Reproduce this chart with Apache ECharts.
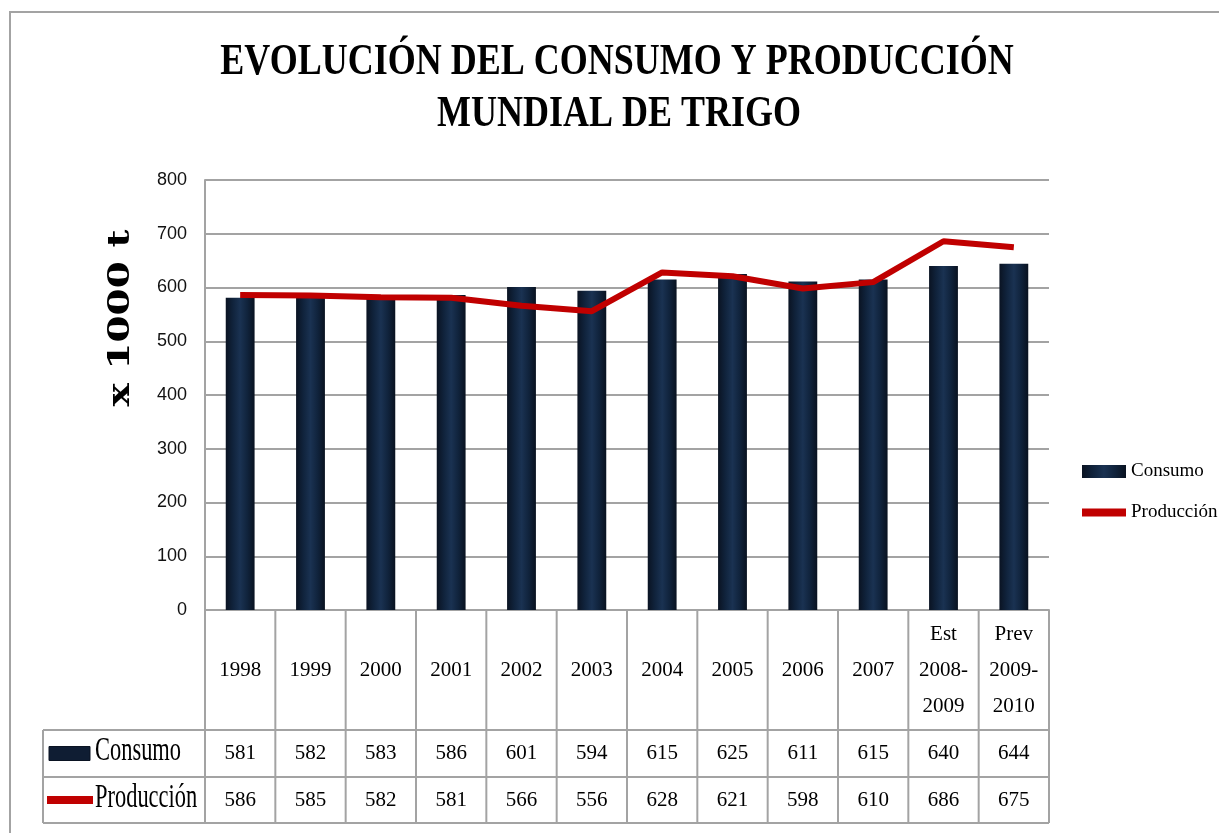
<!DOCTYPE html>
<html>
<head>
<meta charset="utf-8">
<script src="https://cdn.jsdelivr.net/npm/echarts@6/dist/echarts.min.js"></script>
<style>
html,body{margin:0;padding:0;background:#fff;}
#c{width:1219px;height:833px;}
</style>
</head>
<body>
<div id="c"></div>
<script>
var categories = ['1998','1999','2000','2001','2002','2003','2004','2005','2006','2007','Est\n2008-\n2009','Prev\n2009-\n2010'];
var consumo = [581,582,583,586,601,594,615,625,611,615,640,644];
var produccion = [586,585,582,581,566,556,628,621,598,610,686,675];
var yTicks = [0,100,200,300,400,500,600,700,800];
var titleLines = ['EVOLUCIÓN DEL CONSUMO Y PRODUCCIÓN','MUNDIAL DE TRIGO'];
var yName = 'x 1000 t';
var seriesNames = ['Consumo','Producción'];

var chart = echarts.init(document.getElementById('c'), null, {renderer:'canvas'});
var GRID = {left:205, right:170, top:180, bottom:223};
var lineCol = '#a3a3a3';
var barGrad = new echarts.graphic.LinearGradient(0,0,1,0,[
  {offset:0,color:'#0a1322'},{offset:0.25,color:'#10233c'},
  {offset:0.5,color:'#1a3252'},{offset:0.75,color:'#10233c'},{offset:1,color:'#091220'}]);

chart.setOption({
  animation:false,
  backgroundColor:'#fff',
  grid:GRID,
  legend:{
    orient:'vertical', left:1077, top:457, itemGap:22, itemWidth:44, itemHeight:13,
    textStyle:{fontFamily:'Liberation Serif', fontSize:19, color:'#000'},
    data:[
      {name:seriesNames[0], icon:'rect'},
      {name:seriesNames[1], icon:'path://M0,0 L45,0 L45,8 L0,8 Z', itemStyle:{color:'#c00000'}}
    ]
  },
  xAxis:{
    type:'category', data:categories,
    axisLine:{lineStyle:{color:lineCol,width:2}},
    axisTick:{show:false},
    axisLabel:{interval:0, margin:60, verticalAlign:'middle', lineHeight:36,
      fontFamily:'Liberation Serif', fontSize:21, color:'#000'}
  },
  yAxis:{
    type:'value', min:yTicks[0], max:yTicks[yTicks.length-1], interval:100,
    axisLine:{show:true, lineStyle:{color:lineCol,width:2}},
    axisTick:{show:false},
    splitLine:{lineStyle:{color:lineCol,width:2}},
    axisLabel:{margin:18, fontFamily:'Liberation Sans', fontSize:18, color:'#111'}
  },
  series:[
    {name:seriesNames[0], type:'bar', data:consumo, barWidth:'41%',
     itemStyle:{color:barGrad}},
    {name:seriesNames[1], type:'line', data:produccion, symbol:'none',
     lineStyle:{color:'#c00000', width:6}, itemStyle:{color:'#c00000'}}
  ]
});

function buildGraphics(){
  var g = [];
  var x0 = chart.convertToPixel({xAxisIndex:0}, 0);
  var x1 = chart.convertToPixel({xAxisIndex:0}, 1);
  var band = x1 - x0;
  var yTop = chart.convertToPixel({yAxisIndex:0}, 0);
  var row1 = yTop + 120, row2 = yTop + 167, row3 = yTop + 213;
  var tableLeft = 43;
  var right = x0 - band/2 + band*categories.length;
  g.push({type:'rect', shape:{x:10,y:12,width:1300,height:900}, style:{fill:null, stroke:lineCol, lineWidth:2}, z:0});
  for (var k=0;k<=categories.length;k++){
    var xv = x0 - band/2 + band*k;
    g.push({type:'line', shape:{x1:xv,y1:yTop,x2:xv,y2:row3}, style:{stroke:lineCol,lineWidth:2}});
  }
  [row1,row2,row3].forEach(function(yy){
    g.push({type:'line', shape:{x1:tableLeft,y1:yy,x2:right,y2:yy}, style:{stroke:lineCol,lineWidth:2}});
  });
  g.push({type:'line', shape:{x1:tableLeft,y1:row1,x2:tableLeft,y2:row3}, style:{stroke:lineCol,lineWidth:2}});
  var rows = [consumo, produccion];
  var rowY = [(row1+row2)/2, (row2+row3)/2];
  rows.forEach(function(arr, r){
    arr.forEach(function(v,i){
      g.push({type:'text', x:chart.convertToPixel({xAxisIndex:0}, i), y:rowY[r],
        style:{text:String(v), font:'21px "Liberation Serif"', fill:'#000', align:'center', verticalAlign:'middle'}});
    });
  });
  g.push({type:'rect', shape:{x:49,y:rowY[0]-7,width:41,height:14}, style:{fill:'#0f1d33', stroke:'#0a1322'}});
  g.push({type:'rect', shape:{x:47,y:rowY[1]-4,width:46,height:8}, style:{fill:'#c00000'}});
  g.push({type:'text', x:95, y:rowY[0]-2, scaleX:0.66,
    style:{text:seriesNames[0], font:'34px "Liberation Serif"', fill:'#000', align:'left', verticalAlign:'middle'}});
  g.push({type:'text', x:95, y:rowY[1]-2, scaleX:0.66,
    style:{text:seriesNames[1], font:'34px "Liberation Serif"', fill:'#000', align:'left', verticalAlign:'middle'}});
  g.push({type:'text', x:617, y:62, scaleX:0.8,
    style:{text:titleLines[0], font:'bold 45px "Liberation Serif"', fill:'#000', align:'center', verticalAlign:'middle'}});
  g.push({type:'text', x:619, y:114, scaleX:0.8,
    style:{text:titleLines[1], font:'bold 45px "Liberation Serif"', fill:'#000', align:'center', verticalAlign:'middle'}});
  g.push({type:'text', x:121, y:318, rotation:Math.PI/2, scaleX:1.3,
    style:{text:yName, font:'bold 30px "DejaVu Serif"', fill:'#000', align:'center', verticalAlign:'middle'}});
  chart.setOption({graphic:{elements:g}});
}
buildGraphics();
</script>
</body>
</html>
